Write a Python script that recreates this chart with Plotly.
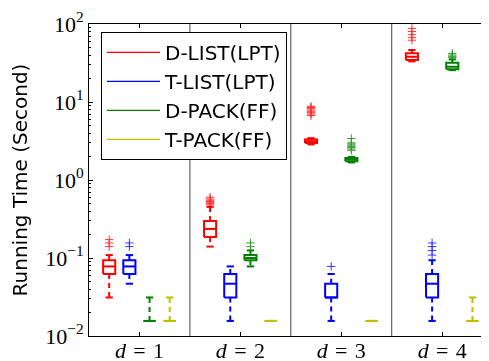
import plotly.graph_objects as go

# ---------------- data ----------------
categories = ["1", "2", "3", "4"]          # value of d for each group
series_names = ["D-LIST(LPT)", "T-LIST(LPT)", "D-PACK(FF)", "T-PACK(FF)"]
series_colors = ["#ff0000", "#0000ff", "#008000", "#bfbf00"]

# D-LIST(LPT)
dlist_q1 = [0.0624, 0.186, 2.97, 34.5]
dlist_med = [0.078, 0.236, 3.13, 38.0]
dlist_q3 = [0.0936, 0.299, 3.31, 42.1]
dlist_lo = [0.0312, 0.14, 2.86, 33.2]
dlist_hi = [0.109, 0.452, 3.44, 46.4]
dlist_out = [[0.14, 0.156, 0.172],
             [0.48, 0.50, 0.51, 0.53, 0.55, 0.57, 0.60],
             [6.7, 7.0, 7.3, 7.6, 7.9, 8.2, 8.5, 8.8],
             [62, 67, 73, 80, 88]]

# T-LIST(LPT)
tlist_q1 = [0.0624, 0.0312, 0.0312, 0.0312]
tlist_med = [0.078, 0.0468, 0.0312, 0.0468]
tlist_q3 = [0.0936, 0.0624, 0.0468, 0.0624]
tlist_lo = [0.0468, 0.0156, 0.0156, 0.0156]
tlist_hi = [0.109, 0.078, 0.0624, 0.0936]
tlist_out = [[0.14, 0.156], [], [0.078], [0.109, 0.125, 0.14, 0.156]]

# D-PACK(FF)
dpack_q1 = [0.0156, 0.0936, 1.74, 26.2]
dpack_med = [0.0156, 0.100, 1.83, 28.3]
dpack_q3 = [0.0156, 0.109, 1.92, 31.8]
dpack_lo = [0.0156, 0.078, 1.68, 25.6]
dpack_hi = [0.0312, 0.125, 1.98, 35.2]
dpack_out = [[], [0.14, 0.156],
             [2.4, 2.5, 2.6, 2.7, 2.8, 2.9, 3.0, 3.4],
             [37, 38.5, 40, 42]]

# T-PACK(FF)
tpack_q1 = [0.0156, 0.0156, 0.0156, 0.0156]
tpack_med = [0.0156, 0.0156, 0.0156, 0.0156]
tpack_q3 = [0.0156, 0.0156, 0.0156, 0.0156]
tpack_lo = [0.0156, 0.0156, 0.0156, 0.0156]
tpack_hi = [0.0312, 0.0156, 0.0156, 0.0312]
tpack_out = [[], [], [], []]

y_tick_vals = [0.01, 0.1, 1, 10, 100]
y_tick_text = ["10<sup>\u22122</sup>", "10<sup>\u22121</sup>", "10<sup>0</sup>",
               "10<sup>1</sup>", "10<sup>2</sup>"]

all_series = [
    (dlist_q1, dlist_med, dlist_q3, dlist_lo, dlist_hi, dlist_out),
    (tlist_q1, tlist_med, tlist_q3, tlist_lo, tlist_hi, tlist_out),
    (dpack_q1, dpack_med, dpack_q3, dpack_lo, dpack_hi, dpack_out),
    (tpack_q1, tpack_med, tpack_q3, tpack_lo, tpack_hi, tpack_out),
]

# ---------------- layout constants ----------------
GROUP_SPAN = 5          # slots per group (4 boxes + gap)
BOX_HALF = 0.3
CAP_HALF = 0.18

fig = go.Figure()

for s, (q1, med, q3, lo, hi, outs) in enumerate(all_series):
    col = series_colors[s]
    sx, sy, wx, wy, ox, oy = [], [], [], [], [], []
    for g in range(len(categories)):
        p = GROUP_SPAN * g + s + 1
        x0, x1 = p - BOX_HALF, p + BOX_HALF
        sx += [x0, x1, x1, x0, x0, None]
        sy += [q1[g], q1[g], q3[g], q3[g], q1[g], None]
        sx += [x0, x1, None]
        sy += [med[g], med[g], None]
        sx += [p - CAP_HALF, p + CAP_HALF, None, p - CAP_HALF, p + CAP_HALF, None]
        sy += [lo[g], lo[g], None, hi[g], hi[g], None]
        wx += [p, p, None, p, p, None]
        wy += [q3[g], hi[g], None, q1[g], lo[g], None]
        ox += [p] * len(outs[g])
        oy += list(outs[g])
    fig.add_trace(go.Scatter(x=wx, y=wy, mode="lines", showlegend=False,
                             line=dict(color=col, width=2, dash="5px,4px"),
                             hoverinfo="skip"))
    fig.add_trace(go.Scatter(x=sx, y=sy, mode="lines", showlegend=False,
                             line=dict(color=col, width=2), hoverinfo="skip"))
    fig.add_trace(go.Scatter(x=ox, y=oy, mode="markers", showlegend=False,
                             marker=dict(symbol="cross-thin", size=6,
                                         line=dict(color=col, width=1)),
                             opacity=0.8, hoverinfo="skip"))

for s, name in enumerate(series_names):
    fig.add_trace(go.Scatter(x=[None], y=[None], mode="lines", name=name,
                             line=dict(color=series_colors[s], width=1.2)))

tick_pos = [GROUP_SPAN * g + GROUP_SPAN / 2 for g in range(len(categories))]
tick_txt = ["<i>d</i>\u2004=\u2004" + c for c in categories]

for g in range(1, len(categories)):
    fig.add_shape(type="line", xref="x", yref="paper",
                  x0=GROUP_SPAN * g, x1=GROUP_SPAN * g, y0=0, y1=1,
                  line=dict(color="#444444", width=1))

minor_vals = [m * 10 ** e for e in range(-2, 2) for m in range(2, 10)]

# the page body adds an 8 px offset, so the figure is sized to fill the rest
fig.update_layout(
    width=481, height=353,
    margin=dict(l=81, r=0, t=16, b=25),
    paper_bgcolor="white", plot_bgcolor="white",
    font=dict(family="DejaVu Sans", size=20, color="black"),
    legend=dict(x=0.03, y=0.975, xanchor="left", yanchor="top",
                bgcolor="white", bordercolor="black", borderwidth=1,
                font=dict(family="DejaVu Sans", size=20, color="black"),
                itemwidth=53),
    xaxis=dict(range=[0, 19.82], showgrid=False, zeroline=False,
               automargin=False,
               tickvals=tick_pos, ticktext=tick_txt,
               ticks="inside", ticklen=4, tickcolor="black",
               showline=True, linecolor="black", linewidth=1, mirror="ticks",
               ticklabelstandoff=-5,
               tickfont=dict(family="Liberation Serif", size=22)),
    yaxis=dict(type="log", range=[-2, 2], showgrid=False, zeroline=False,
               automargin=False,
               tickvals=y_tick_vals, ticktext=y_tick_text,
               ticks="inside", ticklen=4, tickcolor="black",
               showline=True, linecolor="black", linewidth=1,
               tickfont=dict(family="Liberation Serif", size=22),
               minor=dict(tickvals=minor_vals, ticks="inside", ticklen=2,
                          tickcolor="black", showgrid=False),
               title=dict(text="Running Time (Second)", standoff=15,
                          font=dict(family="DejaVu Sans", size=20))),
)

fig.write_html("out.html")
